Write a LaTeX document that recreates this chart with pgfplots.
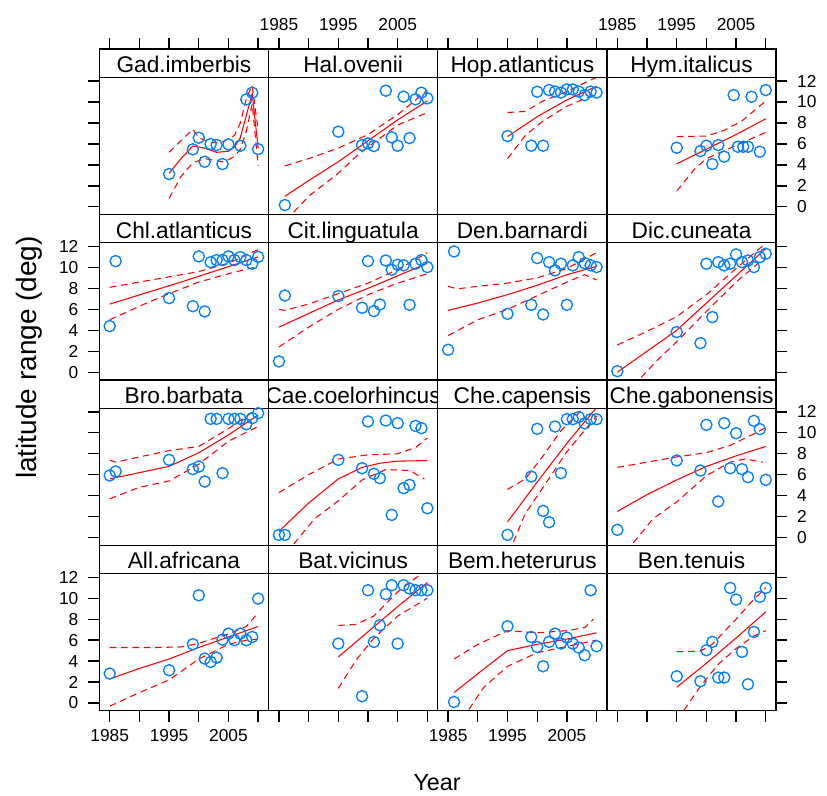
\documentclass[border=0pt]{standalone}
\usepackage{fontspec}
\setmainfont{Liberation Sans}
\usepackage{pgfplots}
\pgfplotsset{compat=1.18}
\usepgfplotslibrary{groupplots}
\definecolor{ptBlue}{RGB}{0,128,255}

\pgfplotsset{
    panel/.style={
        scale only axis,
        width=126.9pt, height=124.05pt,
        xmin=1983.25, xmax=2011.75,
        ymin=-0.73, ymax=15.05,
        xtick={1985,1990,...,2010},
        ytick={0,2,...,12},
        tick align=outside,
        major tick length=8.25pt,
        axis line style={black, line width=1pt},
        tick style={black, line width=1pt},
        tick label style={font=\fontsize{13}{15}\selectfont},
        /pgf/number format/assume math mode=true,
        xticklabel shift=2pt,
        yticklabel shift=4pt,
    },
    labx/.style={xticklabels={1985,,1995,,2005,}},
    pts/.style={ptBlue, only marks, mark=o, mark size=4.2pt, mark options={line width=1pt}},
    fit/.style={red, line width=0.8pt, no marks},
    band/.style={red, line width=0.8pt, no marks, dash pattern=on 5pt off 3.5pt},
}
\newcommand{\strip}[1]{%
    \draw[black, line width=1pt] (axis cs:1983.25,12.35) -- (axis cs:2011.75,12.35);
    \node[font=\fontsize{17}{19}\selectfont, anchor=base, inner sep=0pt] at (axis cs:1997.5,12.8) {#1};
}

\begin{document}
\begin{tikzpicture}
\begin{groupplot}[
    group style={group size=4 by 4, horizontal sep=0pt, vertical sep=0pt},
    panel,
]

% ---------- row 1 ----------
\nextgroupplot[xtick pos=right, xticklabels={}, ytick pos=left, yticklabels={}]
\addplot[pts] coordinates {(1995,3.13)(1999,5.48)(2000,6.59)(2001,4.3)(2002,5.99)(2003,5.89)(2004,4.08)(2005,5.95)(2007,5.83)(2008,10.25)(2009,10.89)(2010,5.51)};
\addplot[fit] coordinates {(1995,3.2)(1997,4.6)(1999,5.8)(2001,5.6)(2003,5.2)(2005,5.3)(2006,5.7)(2007,6.6)(2008,8.7)(2009,10.8)(2010,5.6)};
\addplot[band] coordinates {(1995,5.2)(1997,6.3)(1999,7.4)(2000,6.6)(2002,6.1)(2004,6.2)(2006,6.8)(2007,8.0)(2008,10.3)(2009,11.6)(2010,7.3)};
\addplot[band] coordinates {(1995,0.8)(1997,2.9)(1999,4.2)(2001,4.6)(2003,4.4)(2004,4.3)(2005,4.5)(2006,4.8)(2007,5.5)(2008,7.2)(2009,9.8)(2010,3.9)};
\strip{Gad.imberbis}

\nextgroupplot[xtick pos=right, xticklabel pos=right, labx, ytick=\empty]
\addplot[pts] coordinates {(1986,0.17)(1995,7.17)(1999,5.89)(2000,6.05)(2001,5.8)(2003,11.08)(2004,6.62)(2005,5.83)(2006,10.51)(2007,6.56)(2008,10.25)(2009,10.89)(2010,10.35)};
\addplot[fit] coordinates {(1986,1.0)(1990,2.5)(1995,4.3)(2000,6.3)(2005,8.3)(2010,10.1)};
\addplot[band] coordinates {(1986,3.9)(1990,4.6)(1995,5.6)(2000,6.9)(2005,8.8)(2010,11.1)};
\addplot[band] coordinates {(1987.5,-0.5)(1990,1.0)(1995,3.2)(1998,4.8)(2000,5.7)(2005,7.8)(2010,9.0)};
\strip{Hal.ovenii}

\nextgroupplot[xtick pos=right, xticklabels={}, ytick=\empty]
\addplot[pts] coordinates {(1995,6.75)(1999,5.83)(2000,10.98)(2001,5.83)(2002,11.14)(2003,11.0)(2004,10.9)(2005,11.2)(2006,11.2)(2007,11.0)(2008,10.66)(2009,11.0)(2010,10.9)};
\addplot[fit] coordinates {(1995,6.7)(2000,8.6)(2005,10.2)(2010,11.5)};
\addplot[band] coordinates {(1995,9.0)(1998,9.1)(2001,10.1)(2005,11.0)(2009,12.1)(2010,12.35)};
\addplot[band] coordinates {(1995,4.6)(1998,6.8)(2001,8.2)(2005,9.6)(2010,10.8)};
\strip{Hop.atlanticus}

\nextgroupplot[xtick pos=right, xticklabel pos=right, labx, ytick pos=right, yticklabel pos=right]
\addplot[pts] coordinates {(1995,5.64)(1999,5.32)(2000,5.83)(2001,4.08)(2002,5.89)(2003,4.78)(2004.6,10.66)(2005.3,5.73)(2006.2,5.73)(2007,5.73)(2007.6,10.5)(2009,5.26)(2010,11.14)};
\addplot[fit] coordinates {(1995,4.1)(2000,5.5)(2005,6.9)(2010,8.4)};
\addplot[band] coordinates {(1995,6.7)(2000,6.75)(2003,7.3)(2006,8.2)(2010,10.1)};
\addplot[band] coordinates {(1995,1.5)(1998,3.6)(2000,4.6)(2004,5.6)(2010,7.1)};
\strip{Hym.italicus}

% ---------- row 2 ----------
\nextgroupplot[xtick=\empty, ytick pos=left]
\addplot[pts] coordinates {(1985,4.4)(1986,10.6)(1995,7.07)(1999,6.3)(2000,11.05)(2001,5.8)(2002,10.5)(2003,10.7)(2004,10.7)(2005,11.05)(2006,10.7)(2007,10.98)(2008,10.7)(2009,10.35)(2010,11.0)};
\addplot[fit] coordinates {(1985,6.5)(1997,8.6)(2010,11.0)};
\addplot[band] coordinates {(1985,8.1)(1990,8.6)(1995,9.1)(2000,9.6)(2005,10.4)(2010,11.7)};
\addplot[band] coordinates {(1985,5.0)(1990,6.3)(1995,7.5)(2000,8.6)(2005,9.4)(2010,10.1)};
\strip{Chl.atlanticus}

\nextgroupplot[xtick=\empty, ytick=\empty]
\addplot[pts] coordinates {(1985,1.03)(1986,7.32)(1995,7.26)(1999,6.15)(2000,10.6)(2001,5.83)(2002,6.46)(2003,10.66)(2004,9.77)(2005,10.25)(2006,10.2)(2007,6.43)(2008,10.35)(2009,10.7)(2010,10.03)};
\addplot[fit] coordinates {(1985,4.3)(1990,5.6)(1995,6.9)(2000,8.0)(2005,9.2)(2010,10.4)};
\addplot[band] coordinates {(1985,6.0)(1986,5.9)(1990,6.5)(1995,7.5)(2000,8.5)(2005,9.8)(2010,11.4)};
\addplot[band] coordinates {(1985,2.4)(1990,4.3)(1995,6.0)(2000,7.4)(2005,8.5)(2010,9.4)};
\strip{Cit.linguatula}

\nextgroupplot[xtick=\empty, ytick=\empty]
\addplot[pts] coordinates {(1985,2.14)(1986,11.52)(1995,5.57)(1999,6.43)(2000,10.89)(2001,5.51)(2002,10.5)(2003,9.71)(2004,10.35)(2005,6.43)(2006,10.19)(2007,10.98)(2008,10.41)(2009,10.2)(2010,10.03)};
\addplot[fit] coordinates {(1985,5.9)(1990,6.6)(1995,7.4)(2000,8.3)(2005,9.3)(2010,10.1)};
\addplot[band] coordinates {(1985,8.2)(1986.5,7.95)(1990,8.2)(1995,8.5)(2000,9.0)(2005,9.9)(2010,11.4)};
\addplot[band] coordinates {(1985,3.5)(1990,5.0)(1995,6.0)(2000,7.3)(2005,8.6)(2008,9.3)(2010,8.8)};
\strip{Den.barnardi}

\nextgroupplot[xtick=\empty, ytick pos=right, yticklabels={}]
\addplot[pts] coordinates {(1985,0.1)(1995,3.83)(1999,2.78)(2000,10.35)(2001,5.26)(2002,10.5)(2003,10.19)(2004,10.35)(2005,11.24)(2006,10.5)(2007,10.66)(2008,10.03)(2009,10.98)(2010,11.3)};
\addplot[fit] coordinates {(1985,0.0)(1995,4.0)(2000,6.6)(2005,9.2)(2010,11.8)};
\addplot[band] coordinates {(1985,2.6)(1990,3.9)(1995,5.3)(2000,7.4)(2005,9.9)(2010,12.3)};
\addplot[band] coordinates {(1989,-0.5)(1992,1.3)(1995,2.9)(2000,5.8)(2005,8.6)(2010,11.0)};
\strip{Dic.cuneata}

% ---------- row 3 ----------
\nextgroupplot[xtick=\empty, ytick pos=left, yticklabels={}]
\addplot[pts] coordinates {(1985,5.93)(1986,6.31)(1995,7.42)(1999,6.53)(2000,6.78)(2001,5.35)(2002,11.33)(2003,11.33)(2004,6.15)(2005,11.33)(2006,11.33)(2007,11.33)(2008,10.82)(2009,11.4)(2010,11.87)};
\addplot[fit] coordinates {(1985,5.6)(1990,6.2)(1995,6.8)(2000,8.1)(2005,9.8)(2010,11.7)};
\addplot[band] coordinates {(1985,7.4)(1986,7.2)(1990,7.7)(1995,8.3)(2000,8.7)(2005,10.4)(2010,12.35)};
\addplot[band] coordinates {(1985,3.7)(1990,4.8)(1995,5.4)(2000,7.0)(2005,9.2)(2010,10.6)};
\strip{Bro.barbata}

\nextgroupplot[xtick=\empty, ytick=\empty]
\addplot[pts] coordinates {(1985,0.26)(1986,0.26)(1995,7.42)(1999,6.62)(2000,11.08)(2001,6.08)(2002,5.67)(2003,11.17)(2004,2.17)(2005,10.92)(2006,4.72)(2007,5.03)(2008,10.66)(2009,10.44)(2010,2.8)};
\addplot[fit] coordinates {(1985,0.6)(1990,3.3)(1995,5.6)(1999,6.7)(2002,7.1)(2005,7.3)(2010,7.35)};
\addplot[band] coordinates {(1985,4.3)(1990,6.0)(1995,7.5)(2000,7.9)(2005,8.0)(2008,8.6)(2010,9.5)};
\addplot[band] coordinates {(1987.5,-0.6)(1991,1.8)(1995,3.5)(1999,5.5)(2003,6.5)(2007,6.4)(2009.5,5.6)};
\strip{Cae.coelorhincus}

\nextgroupplot[xtick=\empty, ytick=\empty]
\addplot[pts] coordinates {(1995,0.26)(1999,5.83)(2000,10.38)(2001,2.55)(2002,1.47)(2003,10.6)(2004,6.15)(2005,11.3)(2006,11.3)(2007,11.5)(2008,10.9)(2009,11.3)(2010,11.3)};
\addplot[fit] coordinates {(1995,1.5)(2000,5.3)(2005,9.0)(2009.9,12.35)};
\addplot[band] coordinates {(1995,4.6)(1998,5.6)(2001,7.8)(2004,10.2)(2007.8,12.35)};
\addplot[band] coordinates {(1996,-0.4)(1998,2.3)(2001,4.8)(2005,8.2)(2010,11.6)};
\strip{Che.capensis}

\nextgroupplot[xtick=\empty, ytick pos=right, yticklabel pos=right]
\addplot[pts] coordinates {(1985,0.74)(1995,7.36)(1999,6.4)(2000,10.76)(2002,3.45)(2003,10.92)(2004,6.62)(2005,9.96)(2006,6.53)(2007,5.77)(2008,11.14)(2009,10.35)(2010,5.51)};
\addplot[fit] coordinates {(1985,2.5)(1990,4.1)(1995,5.5)(2000,6.8)(2005,7.8)(2010,8.7)};
\addplot[band] coordinates {(1985,6.7)(1990,7.2)(1995,7.7)(2000,8.1)(2004,8.8)(2008,9.9)(2010,10.5)};
\addplot[band] coordinates {(1987.7,-0.5)(1991,1.8)(1995,3.4)(2000,5.9)(2004,7.2)(2006.5,7.5)(2009.5,7.2)};
\strip{Che.gabonensis}

% ---------- row 4 ----------
\nextgroupplot[xtick pos=left, labx, ytick pos=left]
\addplot[pts] coordinates {(1985,2.81)(1995,3.13)(1999,5.61)(2000,10.28)(2001,4.24)(2002,3.92)(2003,4.33)(2004,6.05)(2005,6.62)(2006,5.99)(2007,6.62)(2008,5.99)(2009,6.3)(2010,9.96)};
\addplot[fit] coordinates {(1985,2.3)(1990,3.3)(1995,4.2)(2000,5.3)(2005,6.3)(2010,7.3)};
\addplot[band] coordinates {(1985,5.3)(1993,5.3)(1997,5.35)(2000,5.7)(2005,6.6)(2008,7.3)(2010,8.6)};
\addplot[band] coordinates {(1985,-0.3)(1990,1.0)(1995,2.2)(2000,4.2)(2005,5.6)(2008,6.0)(2010,6.1)};
\strip{All.africana}
\coordinate (bl) at (rel axis cs:0,0);

\nextgroupplot[xtick pos=left, xticklabels={}, ytick=\empty]
\addplot[pts] coordinates {(1995,5.67)(1999,0.65)(2000,10.76)(2001,5.83)(2002,7.42)(2003,10.38)(2004,11.24)(2005,5.67)(2006,11.24)(2007,10.92)(2008,10.76)(2009,10.76)(2010,10.76)};
\addplot[fit] coordinates {(1995,4.4)(2000,6.8)(2005,9.2)(2010,11.5)};
\addplot[band] coordinates {(1995,7.4)(1998,7.5)(2001,8.3)(2005,10.6)(2009,12.35)};
\addplot[band] coordinates {(1995,1.4)(1998,4.1)(2001,6.2)(2005,8.3)(2010,10.0)};
\strip{Bat.vicinus}

\nextgroupplot[xtick pos=left, labx, ytick=\empty]
\addplot[pts] coordinates {(1986,0.1)(1995,7.32)(1999,6.3)(2000,5.35)(2001,3.51)(2002,5.83)(2003,6.62)(2004,5.67)(2005,6.24)(2006,5.67)(2007,5.29)(2008,4.56)(2009,10.76)(2010,5.42)};
\addplot[fit] coordinates {(1986,1.0)(1990,2.8)(1995,5.0)(2000,5.6)(2005,6.1)(2010,6.7)};
\addplot[band] coordinates {(1986,4.2)(1990,5.6)(1995,6.9)(2000,6.7)(2005,6.9)(2008,7.2)(2009.5,8.0)};
\addplot[band] coordinates {(1988.5,-0.6)(1991,1.5)(1995,3.5)(2000,4.8)(2005,5.4)(2010,6.0)};
\strip{Bem.heterurus}

\nextgroupplot[xtick pos=left, xticklabels={}, ytick pos=right, yticklabels={}]
\addplot[pts] coordinates {(1995,2.55)(1999,2.08)(2000,5.04)(2001,5.83)(2002,2.43)(2003,2.43)(2004,10.98)(2005,9.87)(2006,4.88)(2007,1.79)(2008,6.78)(2009,10.13)(2010,10.98)};
\addplot[fit] coordinates {(1995,1.5)(2000,3.8)(2005,6.2)(2010,8.7)};
\addplot[band] coordinates {(1995,4.9)(1999,4.95)(2001,5.6)(2005,8.0)(2008,9.9)(2010,11.0)};
\addplot[band] coordinates {(1996.2,-0.7)(1999,1.6)(2002,3.7)(2005,5.2)(2008,6.4)(2010,6.9)};
\strip{Ben.tenuis}

\end{groupplot}

% axis titles
\node[rotate=90, font=\fontsize{21}{24}\selectfont] at ([shift={(-52.35pt,264.9pt)}]bl) {latitude range (deg)};
\node[font=\fontsize{17.5}{20}\selectfont] at ([shift={(253.3pt,-54.2pt)}]bl) {Year};

% page frame
\path ([shift={(-74.5pt,-62.5pt)}]bl) rectangle ++(620.25pt,595.5pt);
\end{tikzpicture}
\end{document}
